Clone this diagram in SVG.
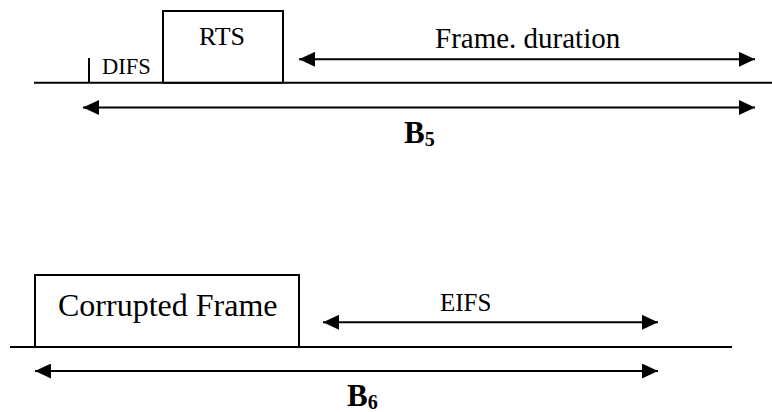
<svg xmlns="http://www.w3.org/2000/svg" width="772" height="412" viewBox="0 0 772 412">
  <style>
    .line { stroke: #000; stroke-width: 2; fill: none; }
    .box { stroke: #000; stroke-width: 2; fill: #fff; }
    .span { stroke: #000; stroke-width: 2; fill: none; marker-start: url(#head); marker-end: url(#head); }
    text { font-family: 'Liberation Serif', 'DejaVu Serif', serif; fill: #000; }
    .b { font-weight: bold; }
  </style>
  <defs>
    <marker id="head" markerUnits="userSpaceOnUse" markerWidth="16" markerHeight="15" refX="16" refY="7.5" orient="auto-start-reverse">
      <path d="M0,0 L16,7.5 L0,15 Z" fill="#000"/>
    </marker>
  </defs>
  <rect width="772" height="412" fill="#fff"/>

  <!-- Upper timeline: DIFS, RTS, NAV span -->
  <g id="timeline-top">
    <line class="line" x1="34" y1="82.7" x2="772" y2="82.7"/>
  </g>
  <g id="difs">
    <line class="line" x1="89" y1="58" x2="89" y2="82"/>
    <text x="102" y="74" font-size="22.5">DIFS</text>
  </g>
  <g id="rts">
    <rect class="box" x="163" y="11" width="120" height="71.7"/>
    <text x="222" y="44.5" font-size="26" text-anchor="middle">RTS</text>
  </g>
  <g id="frame-duration">
    <text x="435" y="48" font-size="29">Frame. duration</text>
  </g>
  <g id="b5">
    <text class="b" x="404" y="143" font-size="31">B<tspan font-size="20" dy="3">5</tspan></text>
  </g>

  <!-- Lower timeline: corrupted frame followed by EIFS -->
  <g id="timeline-bottom">
    <line class="line" x1="10" y1="347" x2="732" y2="347"/>
  </g>
  <g id="corrupted-frame">
    <rect class="box" x="35" y="275" width="264" height="72"/>
    <text x="58" y="316" font-size="32">Corrupted Frame</text>
  </g>
  <g id="eifs">
    <text x="440" y="311" font-size="25">EIFS</text>
  </g>
  <g id="b6">
    <text class="b" x="347" y="406" font-size="31">B<tspan font-size="20" dy="3">6</tspan></text>
  </g>

  <!-- Duration spans -->
  <g id="connectors">
    <line class="span" x1="299" y1="59.3" x2="755" y2="59.3"/>
    <line class="span" x1="83" y1="107.5" x2="755" y2="107.5"/>
    <line class="span" x1="323" y1="322.3" x2="658" y2="322.3"/>
    <line class="span" x1="35" y1="371" x2="658" y2="371"/>
  </g>
</svg>
